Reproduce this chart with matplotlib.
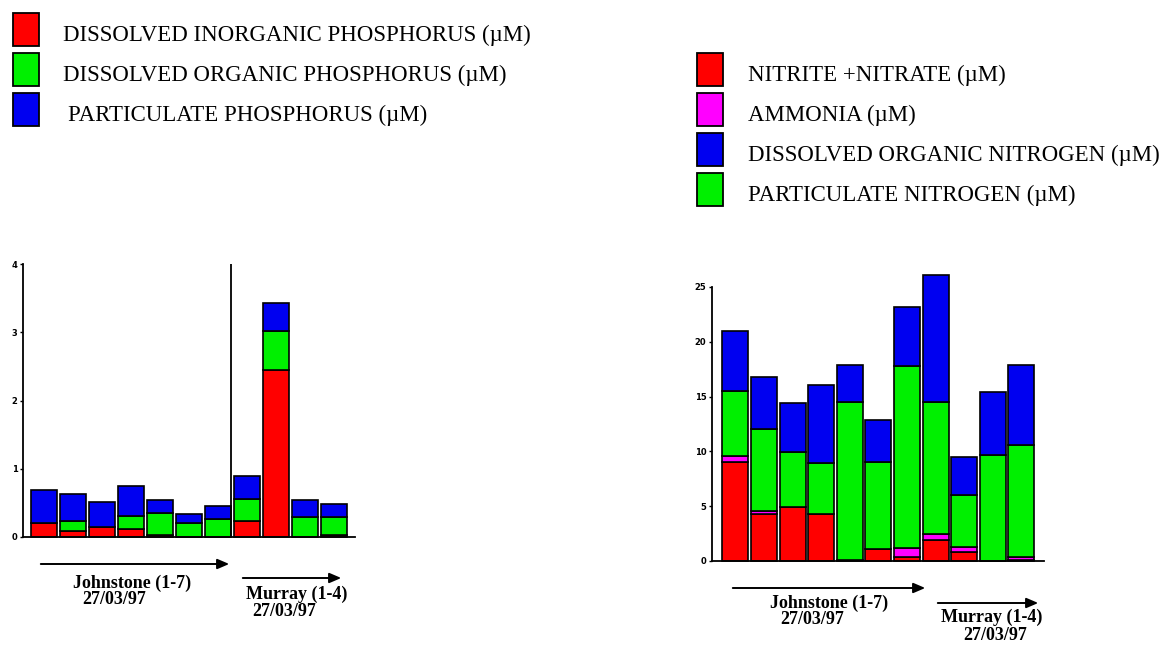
#!/usr/bin/env python3
"""Stacked phosphorus / nitrogen bars for the Johnstone and Murray stations."""

import matplotlib.pyplot as plt
from matplotlib.patches import FancyArrowPatch, Rectangle
import numpy as np

FIG_W, FIG_H = 1159, 659

STATIONS = list(range(11))

# phosphorus (uM), bottom to top
DIP = [0.20, 0.09, 0.15, 0.12, 0.03, 0.00, 0.00, 0.23, 2.45, 0.00, 0.03]
DOP = [0.00, 0.14, 0.00, 0.19, 0.32, 0.21, 0.26, 0.33, 0.57, 0.29, 0.26]
PP = [0.49, 0.40, 0.36, 0.44, 0.19, 0.13, 0.19, 0.33, 0.41, 0.25, 0.19]
P_TICKS = [0, 1, 2, 3, 4]

# nitrogen (uM), bottom to top
NOX = [9.00, 4.27, 4.90, 4.25, 0.10, 1.10, 0.35, 1.90, 0.85, 0.00, 0.10]
NH4 = [0.55, 0.30, 0.00, 0.00, 0.00, 0.00, 0.80, 0.60, 0.40, 0.00, 0.25]
PN = [6.00, 7.50, 5.00, 4.70, 14.40, 7.90, 16.65, 12.00, 4.80, 9.70, 10.20]
DON = [5.43, 4.70, 4.50, 7.10, 3.40, 3.90, 5.40, 11.60, 3.40, 5.70, 7.30]
N_TICKS = [0, 5, 10, 15, 20, 25]

P_LABELS = [
    "DISSOLVED INORGANIC PHOSPHORUS (\u00b5M)",
    "DISSOLVED ORGANIC PHOSPHORUS (\u00b5M)",
    "PARTICULATE PHOSPHORUS (\u00b5M)",
]
N_LABELS = [
    "NITRITE +NITRATE (\u00b5M)",
    "AMMONIA (\u00b5M)",
    "DISSOLVED ORGANIC NITROGEN (\u00b5M)",
    "PARTICULATE NITROGEN (\u00b5M)",
]

RED, GREEN, BLUE, MAGENTA = "#ff0000", "#00f000", "#0000f0", "#ff00ff"
SERIF = "Liberation Serif"


def fx(px):
    return px / FIG_W


def fy(py):
    return 1 - py / FIG_H


def style_axes(ax, ymax, ticks):
    ax.set_ylim(0, ymax)
    ax.set_yticks(ticks)
    ax.set_xticks([])
    for side in ("top", "right"):
        ax.spines[side].set_visible(False)
    ax.spines["left"].set_linewidth(1.3)
    ax.spines["bottom"].set_linewidth(1.3)
    ax.tick_params(axis="y", length=2, width=1, pad=2, labelsize=6)
    for lab in ax.get_yticklabels():
        lab.set_fontweight("bold")
    ax.patch.set_alpha(0)


def stack(ax, series, colors, width):
    bottom = np.zeros(len(STATIONS))
    for vals, col in zip(series, colors):
        ax.bar(STATIONS, vals, width=width, bottom=bottom, color=col,
               edgecolor="black", linewidth=1.2, clip_on=False)
        bottom += np.asarray(vals)


def key(fig, x, top, text_x, colors, labels, fontsize=16.5):
    # hand-placed key: tall swatches, 40 px per row
    for i, (col, lab) in enumerate(zip(colors, labels)):
        y0 = top + 40 * i
        fig.add_artist(Rectangle((fx(x), fy(y0 + 33)), fx(26), 33 / FIG_H,
                                 transform=fig.transFigure, facecolor=col,
                                 edgecolor="black", lw=1.3))
        tx = text_x[i] if isinstance(text_x, list) else text_x
        fig.text(fx(tx), fy(y0 + 28), lab, ha="left", va="baseline",
                 family=SERIF, fontsize=fontsize)


def station_note(fig, x0, x1, y_arrow, name, name_xy, date_xy):
    fig.add_artist(FancyArrowPatch(
        (fx(x0), fy(y_arrow)), (fx(x1), fy(y_arrow)), transform=fig.transFigure,
        arrowstyle="-|>,head_length=7,head_width=3", color="black", lw=1.4))
    fig.text(fx(name_xy[0]), fy(name_xy[1]), name, ha="center", va="center",
             family=SERIF, weight="bold", fontsize=13)
    fig.text(fx(date_xy[0]), fy(date_xy[1]), "27/03/97", ha="center", va="center",
             family=SERIF, weight="bold", fontsize=13)


def main():
    fig = plt.figure(figsize=(FIG_W / 100, FIG_H / 100), dpi=100)

    # phosphorus panel
    axp = fig.add_axes([fx(23), fy(537), fx(355) - fx(23), fy(264) - fy(537)])
    stack(axp, [DIP, DOP, PP], [RED, GREEN, BLUE], 0.9)
    axp.set_xlim(-0.72, 10.71)
    style_axes(axp, 4, P_TICKS)
    axp.plot([6.45, 6.45], [0, 4], color="black", lw=1.3)

    # nitrogen panel
    axn = fig.add_axes([fx(712), fy(561), fx(1044) - fx(712), fy(287) - fy(561)])
    stack(axn, [NOX, NH4, PN, DON], [RED, MAGENTA, GREEN, BLUE], 0.91)
    axn.set_xlim(-0.82, 10.79)
    style_axes(axn, 25, N_TICKS)

    key(fig, 13, 13, [63, 63, 68], [RED, GREEN, BLUE], P_LABELS)
    key(fig, 697, 53, 748, [RED, MAGENTA, BLUE, GREEN], N_LABELS)

    station_note(fig, 38, 232, 564, "Johnstone (1-7)", (132, 583), (114, 600))
    station_note(fig, 240, 344, 578, "Murray (1-4)", (297, 594), (284, 612))
    station_note(fig, 730, 928, 588, "Johnstone (1-7)", (829, 603), (812, 620))
    station_note(fig, 935, 1041, 603, "Murray (1-4)", (992, 617), (995, 635))

    fig.savefig("out.png", dpi=100)


if __name__ == "__main__":
    main()
